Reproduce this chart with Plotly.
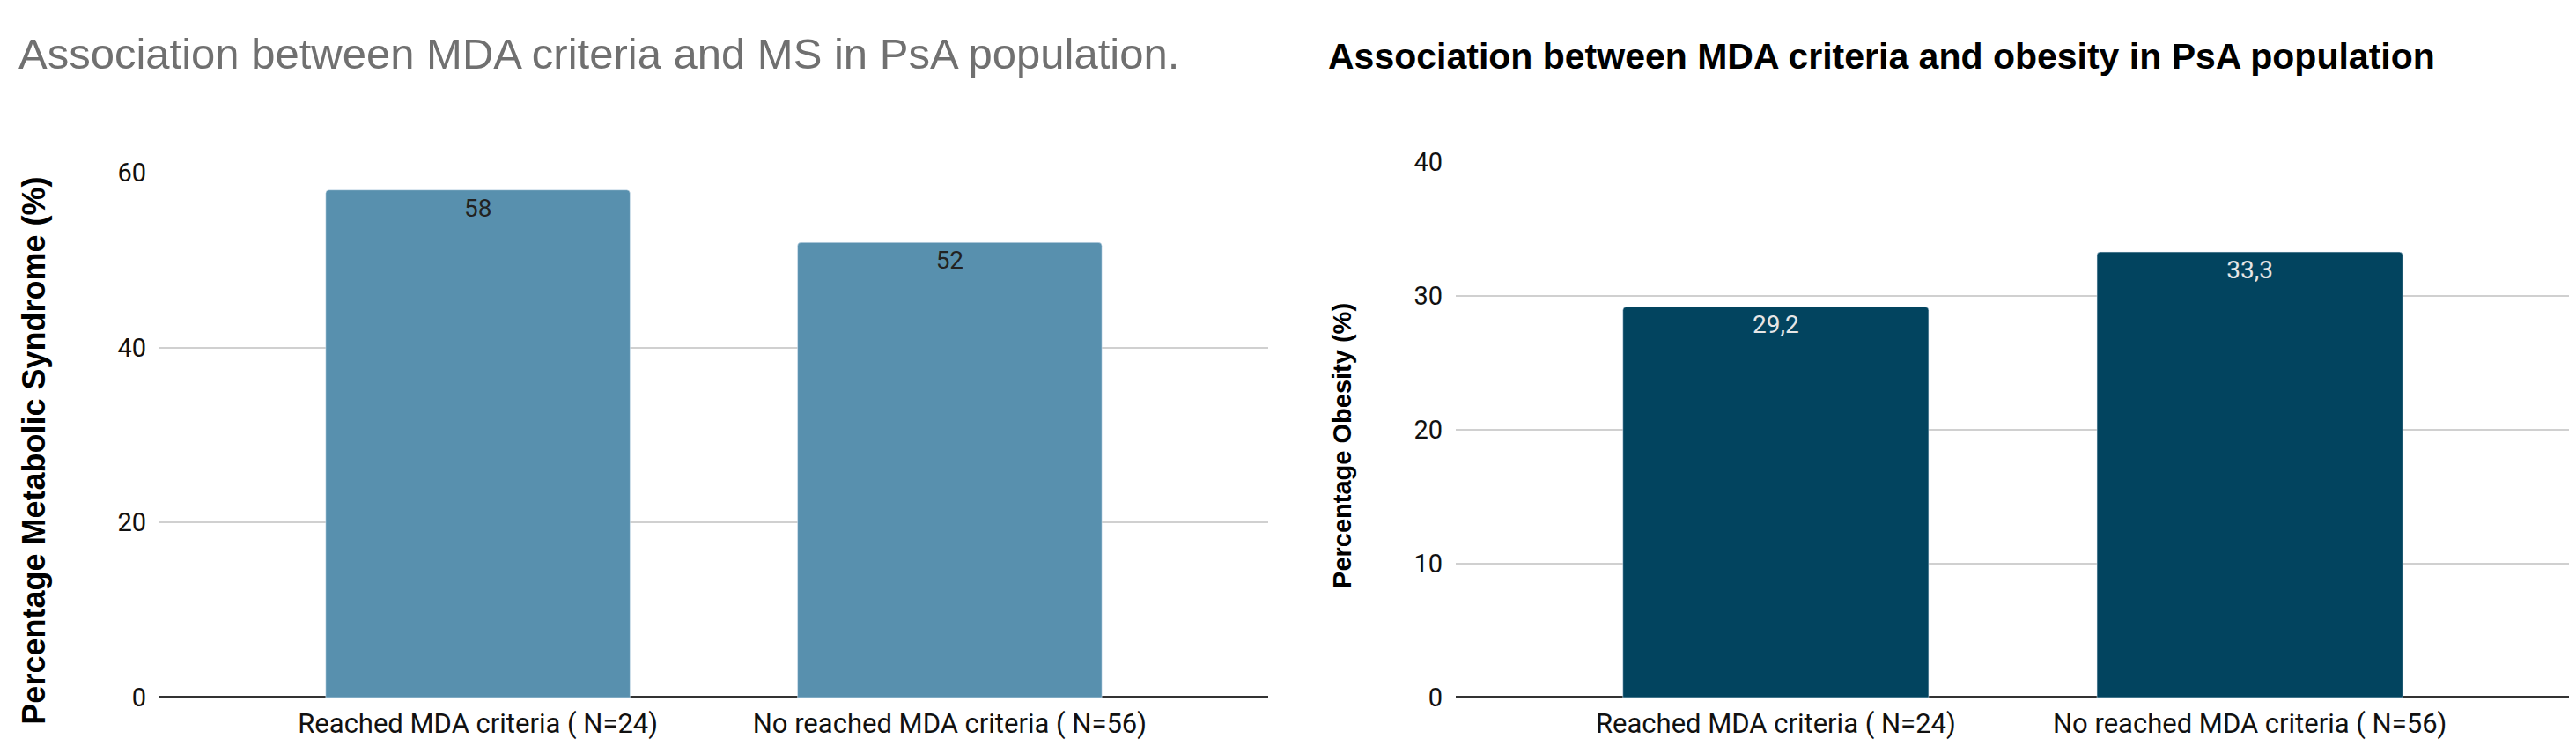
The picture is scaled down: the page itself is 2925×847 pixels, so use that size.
import plotly.graph_objects as go

W, H = 2925, 847

# data
categories = ["Reached MDA criteria ( N=24)", "No reached MDA criteria ( N=56)"]
ms_values = [58, 52]
obesity_values = [29.2, 33.3]
ms_ticks = [0, 20, 40, 60]
obesity_ticks = [0, 10, 20, 30, 40]


def px_x(p):
    return p / W


def px_y(p):
    return 1 - p / H


fig = go.Figure()

#left chart: metabolic syndrome
fig.add_trace(go.Bar(
    x=categories, y=ms_values,
    text=[str(v) for v in ms_values],
    textposition="inside", insidetextanchor="end",
    textfont=dict(family="Roboto", size=28, color="#222222"),
    marker=dict(color="#5890ae", cornerradius=4),
    width=0.645, xaxis="x", yaxis="y",
))

#right chart: obesity, labels use decimal comma
fig.add_trace(go.Bar(
    x=categories, y=obesity_values,
    text=[str(v).replace(".", ",") for v in obesity_values],
    textposition="inside", insidetextanchor="end",
    textfont=dict(family="Roboto", size=28, color="#e6e6e6"),
    marker=dict(color="#02445f", cornerradius=4),
    width=0.645, xaxis="x2", yaxis="y2",
))

tick_font = dict(family="Roboto", size=29, color="#111111")
cat_font = dict(family="Roboto", size=31, color="#111111")
common_x = dict(type="category", range=[-0.675, 1.675], showgrid=False,
                ticks="", tickfont=cat_font, ticklabelstandoff=8,
                showline=False, zeroline=False)
common_y = dict(showgrid=True, gridcolor="#d0d0d0", gridwidth=2,
                zeroline=True, zerolinecolor="#333333", zerolinewidth=3,
                ticks="", tickfont=tick_font, ticklabelstandoff=14, showline=False)

fig.update_layout(
    width=W, height=H,
    margin=dict(l=0, r=0, t=0, b=0),
    paper_bgcolor="white", plot_bgcolor="white",
    showlegend=False,
    xaxis=dict(common_x, domain=[px_x(173), px_x(1432)], anchor="y"),
    yaxis=dict(common_y, domain=[px_y(799), px_y(178)], range=[0, 60],
               tickvals=ms_ticks, anchor="x"),
    xaxis2=dict(common_x, domain=[px_x(1645), px_x(2910)], anchor="y2"),
    yaxis2=dict(common_y, domain=[px_y(799), px_y(166)], range=[0, 40],
                tickvals=obesity_ticks, anchor="x2"),
    annotations=[
        dict(text="Association between MDA criteria and MS in PsA population.",
             x=px_x(11), y=px_y(38), xref="paper", yref="paper",
             xanchor="left", yanchor="middle", showarrow=False,
             font=dict(family="Liberation Sans", size=49, color="#707070")),
        dict(text="<b>Association between MDA criteria and obesity in PsA population</b>",
             x=px_x(1498), y=px_y(41), xref="paper", yref="paper",
             xanchor="left", yanchor="middle", showarrow=False,
             font=dict(family="Liberation Sans", size=41, color="#000000")),
        dict(text="<b>Percentage Metabolic Syndrome (%)</b>",
             x=px_x(31), y=px_y(507), xref="paper", yref="paper",
             xanchor="center", yanchor="middle", textangle=-90, showarrow=False,
             font=dict(family="Liberation Sans", size=36, color="#000000")),
        dict(text="<b>Percentage Obesity (%)</b>",
             x=px_x(1516), y=px_y(501), xref="paper", yref="paper",
             xanchor="center", yanchor="middle", textangle=-90, showarrow=False,
             font=dict(family="Liberation Sans", size=29, color="#000000")),
    ],
)

fig.write_html("out.html")
